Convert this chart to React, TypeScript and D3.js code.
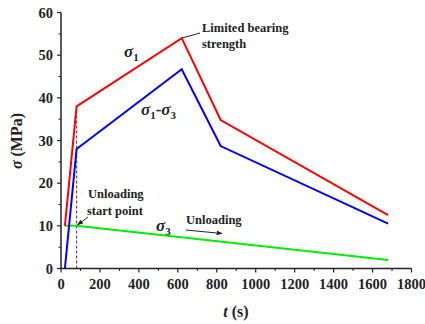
import * as d3 from 'd3';

const sigma1T = [20, 80, 620, 820, 1680];
const sigma1V = [10, 38, 54, 34.8, 12.5];
const diffT = [20, 80, 620, 820, 1680];
const diffV = [0, 28, 46.7, 28.7, 10.5];
const sigma3T = [20, 80, 1680];
const sigma3V = [10, 10, 2];
const xTicks = [0, 200, 400, 600, 800, 1000, 1200, 1400, 1600, 1800];
const yTicks = [0, 10, 20, 30, 40, 50, 60];
const unloadT = 80;

const W = 425;
const H = 324;
const x = d3.scaleLinear().domain([0, 1800]).range([61, 411.5]);
const y = d3.scaleLinear().domain([0, 60]).range([268.5, 12.5]);

const font = '"Liberation Serif", "Times New Roman", serif';

function toPath(ts: number[], vs: number[]) {
    const line = d3
        .line<number>()
        .x((t) => x(t))
        .y((_, i) => y(vs[i]));
    return line(ts) ?? '';
}

export default function App() {
    const xMinor = d3.range(100, 1800, 200);
    const yMinor = d3.range(5, 60, 10);
    return (
        <svg width={W} height={H} style={{ position: 'absolute', left: 0, top: 0 }} fontFamily={font}>
            <defs>
                <marker id="arr" viewBox="0 0 10 10" refX="9" refY="5" markerWidth="6" markerHeight="6" orient="auto">
                    <path d="M0,1 L10,5 L0,9 z" fill="#222" />
                </marker>
            </defs>
            {/* dashed unloading marker */}
            <line
                x1={x(unloadT)}
                x2={x(unloadT)}
                y1={y(0)}
                y2={y(38)}
                stroke="#555"
                strokeWidth={1.2}
                strokeDasharray="3 2"
            />
            <path d={toPath(sigma3T, sigma3V)} fill="none" stroke="#00ee00" strokeWidth={2} />
            <path d={toPath(sigma1T, sigma1V)} fill="none" stroke="#ff0000" strokeWidth={2} />
            <path d={toPath(diffT, diffV)} fill="none" stroke="#0000ff" strokeWidth={2} />

            {/* axes */}
            <line x1={x(0)} x2={x(1800)} y1={y(0)} y2={y(0)} stroke="#222" strokeWidth={1.5} />
            <line x1={x(0)} x2={x(0)} y1={y(0)} y2={y(60)} stroke="#222" strokeWidth={1.5} />
            {xTicks.map((t) => (
                <g key={'x' + t}>
                    <line x1={x(t)} x2={x(t)} y1={y(0)} y2={y(0) + 4} stroke="#222" strokeWidth={1.2} />
                    <text x={x(t)} y={y(0) + 20} textAnchor="middle" fontSize={14.5} fontWeight="bold" fill="#222">
                        {t}
                    </text>
                </g>
            ))}
            {xMinor.map((t) => (
                <line key={'xm' + t} x1={x(t)} x2={x(t)} y1={y(0)} y2={y(0) + 2.5} stroke="#222" strokeWidth={1} />
            ))}
            {yTicks.map((v) => (
                <g key={'y' + v}>
                    <line x1={x(0) - 4} x2={x(0)} y1={y(v)} y2={y(v)} stroke="#222" strokeWidth={1.2} />
                    <text x={x(0) - 8} y={y(v) + 5} textAnchor="end" fontSize={14.5} fontWeight="bold" fill="#222">
                        {v}
                    </text>
                </g>
            ))}
            {yMinor.map((v) => (
                <line key={'ym' + v} x1={x(0) - 2.5} x2={x(0)} y1={y(v)} y2={y(v)} stroke="#222" strokeWidth={1} />
            ))}

            {/* axis titles */}
            <text
                transform={`translate(22,141) rotate(-90)`}
                textAnchor="middle"
                fontSize={16}
                fontWeight="bold"
                fill="#222"
            >
                <tspan fontStyle="italic">σ</tspan> (MPa)
            </text>
            <text x={236} y={317} textAnchor="middle" fontSize={16} fontWeight="bold" fill="#222">
                <tspan fontStyle="italic">t</tspan> (s)
            </text>

            {/* annotations */}
            <text x={124} y={57} fontSize={17} fontWeight="bold" fontStyle="italic" fill="#222">
                σ<tspan fontSize={11} dy={4} fontStyle="normal">1</tspan>
            </text>
            <text x={141} y={115} fontSize={17} fontWeight="bold" fontStyle="italic" fill="#222">
                σ<tspan fontSize={11} dy={4} fontStyle="normal">1</tspan>
                <tspan dy={-4} fontStyle="normal">-</tspan>σ
                <tspan fontSize={11} dy={4} fontStyle="normal">3</tspan>
            </text>
            <text x={156} y={231} fontSize={17} fontWeight="bold" fontStyle="italic" fill="#222">
                σ<tspan fontSize={11} dy={4} fontStyle="normal">3</tspan>
            </text>
            <line x1={x(620)} y1={y(54)} x2={200} y2={33} stroke="#222" strokeWidth={1} />
            <text x={202} y={32} fontSize={12.5} fontWeight="bold" fill="#222">
                Limited bearing
            </text>
            <text x={202} y={48} fontSize={12.5} fontWeight="bold" fill="#222">
                strength
            </text>
            <text x={88} y={198} fontSize={12.5} fontWeight="bold" fill="#222">
                Unloading
            </text>
            <text x={87} y={215} fontSize={12.5} fontWeight="bold" fill="#222">
                start point
            </text>
            <line x1={88} y1={217} x2={x(unloadT) + 1} y2={y(10) - 1} stroke="#222" strokeWidth={1} markerEnd="url(#arr)" />
            <text x={186} y={224} fontSize={12.5} fontWeight="bold" fill="#222">
                Unloading
            </text>
            <line x1={186} y1={230} x2={222} y2={233.5} stroke="#222" strokeWidth={1} markerEnd="url(#arr)" />
        </svg>
    );
}
